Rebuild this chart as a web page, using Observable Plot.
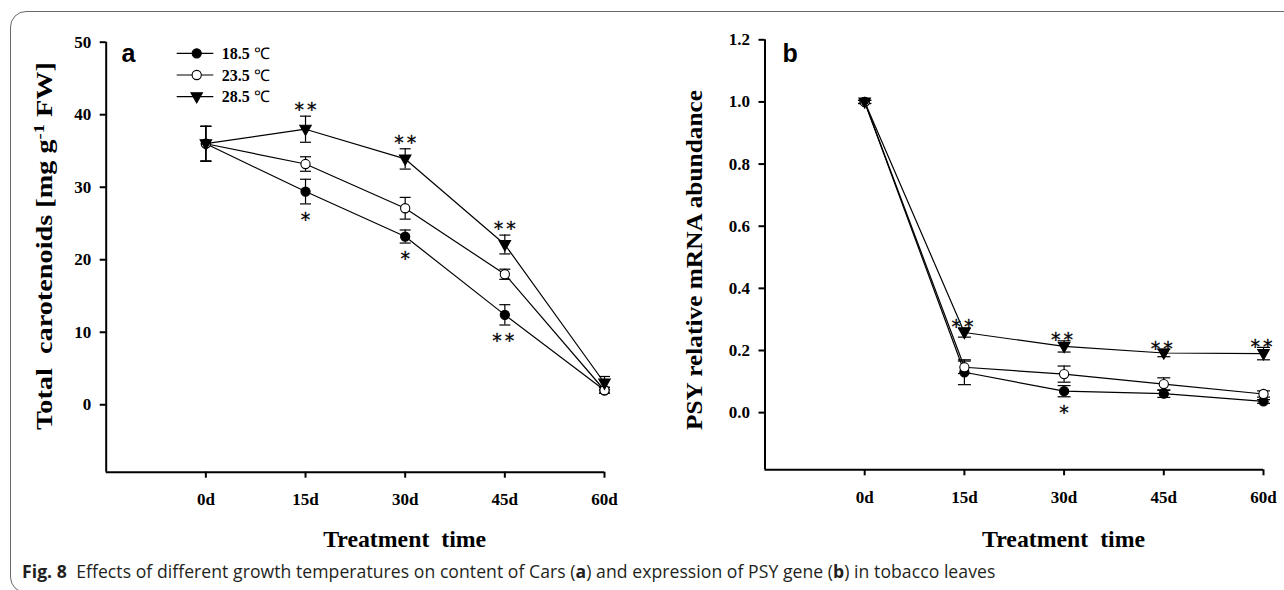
<!DOCTYPE html>
<html>
<head>
<meta charset="utf-8">
<script src="https://cdn.jsdelivr.net/npm/d3@7"></script>
<script src="https://cdn.jsdelivr.net/npm/@observablehq/plot@0.6"></script>
<style>
  html, body { margin: 0; padding: 0; background: #fff; }
  #fig { position: relative; width: 1284px; height: 590px; overflow: hidden; background: #fff; }
  #frame { position: absolute; left: 10px; top: 11px; width: 1320px; height: 582px;
           border: 1.5px solid #6a6a6a; border-radius: 16px; box-sizing: border-box; }
  #pa { position: absolute; left: 0; top: 0; }
  #pb { position: absolute; left: 640px; top: 0; }
  #caption { position: absolute; left: 22px; top: 559px; font-family: "Open Sans", sans-serif;
             font-size: 17.6px; color: #231f20; white-space: nowrap; letter-spacing: 0.05px; }
  #caption b { font-weight: 700; }
</style>
</head>
<body>
<div id="fig">
  <div id="frame"></div>
  <div id="pa"></div>
  <div id="pb"></div>
  <div id="caption"><b>Fig. 8</b>&nbsp; Effects of different growth temperatures on content of Cars (<b>a</b>) and expression of PSY gene (<b>b</b>) in tobacco leaves</div>
</div>
<script>
// Sampling days and their tick labels
const days = [0, 15, 30, 45, 60];
const dayLabels = ["0d", "15d", "30d", "45d", "60d"];
const temps = ["18.5 ℃", "23.5 ℃", "28.5 ℃"];

// Panel a: total carotenoids [mg g-1 FW], means and error bars
const carMean185 = [36.0, 29.4, 23.2, 12.4, 2.0];
const carErr185  = [2.4, 1.7, 0.9, 1.4, 0.4];
const carMean235 = [36.0, 33.2, 27.1, 18.0, 2.0];
const carErr235  = [2.4, 1.0, 1.5, 0.7, 0.4];
const carMean285 = [36.0, 38.0, 33.9, 22.1, 3.0];
const carErr285  = [2.4, 1.8, 1.4, 1.3, 0.9];
const carTicks = [0, 10, 20, 30, 40, 50];
// significance marks: below 18.5 ℃ points, above 28.5 ℃ points
const carSigBelow185 = ["", "*", "*", "**", ""];
const carSigAbove285 = ["", "**", "**", "**", ""];

// Panel b: PSY relative mRNA abundance, means and error bars
const psyMean185 = [1.0, 0.130, 0.069, 0.061, 0.036];
const psyErr185  = [0.005, 0.040, 0.018, 0.012, 0.006];
const psyMean235 = [1.0, 0.146, 0.124, 0.092, 0.060];
const psyErr235  = [0.005, 0.020, 0.026, 0.020, 0.010];
const psyMean285 = [1.0, 0.258, 0.213, 0.192, 0.190];
const psyErr285  = [0.005, 0.015, 0.018, 0.012, 0.020];
const psyTicks = [0, 0.2, 0.4, 0.6, 0.8, 1.0, 1.2];
const psySigBelow185 = ["", "", "*", "", ""];
const psySigAbove285 = ["", "**", "**", "**", "**"];

const serif = "'Liberation Serif', 'Times New Roman', serif";
const xDomain = [-15, 60];

// marker shapes
const triangleDown = {
  draw(ctx, size) {
    const r = Math.sqrt(size / Math.PI);
    ctx.moveTo(-1.15 * r, -0.8 * r);
    ctx.lineTo(1.15 * r, -0.8 * r);
    ctx.lineTo(0, 1.25 * r);
    ctx.closePath();
  }
};
const capLine = {
  draw(ctx, size) {
    const r = Math.sqrt(size / Math.PI);
    ctx.moveTo(-r, 0);
    ctx.lineTo(r, 0);
  }
};
const markerStyle = [
  {symbol: "circle", fill: "black", stroke: "black", r: 4.6},
  {symbol: "circle", fill: "white", stroke: "black", r: 4.6},
  {symbol: triangleDown, fill: "black", stroke: "black", r: 5}
];

function table(means, errs, temp) {
  return days.map((day, i) => ({day, v: means[i], e: errs[i], temp}));
}
function sigTable(rows, marks) {
  return rows.map((d, i) => ({...d, mark: marks[i]})).filter(d => d.mark);
}

function panel({series, yDomain, ticks, tickFormat, marginLeft, marginRight, marginTop, width,
                sigBelow, sigAbove, capR, aboveDx, aboveDy}) {
  const marks = [
    Plot.ruleY([yDomain[0]], {x1: xDomain[0], x2: xDomain[1], stroke: "black", strokeWidth: 2}),
    Plot.ruleX([xDomain[0]], {y1: yDomain[0], y2: yDomain[1], stroke: "black", strokeWidth: 2}),
    Plot.axisY({ticks, tickFormat, tickSize: 6, tickPadding: 9, strokeWidth: 2, label: null}),
    Plot.axisX({ticks: days, tickFormat: d => dayLabels[days.indexOf(d)], tickSize: 6, tickPadding: 15,
                strokeWidth: 2, label: null}),
  ];
  // connecting lines
  series.forEach(s => marks.push(Plot.line(s, {x: "day", y: "v", stroke: "black", strokeWidth: 1.2})));
  // error bars and caps
  series.forEach(s => {
    marks.push(Plot.ruleX(s, {x: "day", y1: d => d.v - d.e, y2: d => d.v + d.e, stroke: "black", strokeWidth: 1.2}));
    marks.push(Plot.dot(s, {x: "day", y: d => d.v + d.e, symbol: capLine, r: capR, stroke: "black", strokeWidth: 1.2}));
    marks.push(Plot.dot(s, {x: "day", y: d => d.v - d.e, symbol: capLine, r: capR, stroke: "black", strokeWidth: 1.2}));
  });
  // data markers
  series.forEach((s, k) => {
    const m = markerStyle[k];
    marks.push(Plot.dot(s, {x: "day", y: "v", symbol: m.symbol, r: m.r, fill: m.fill, stroke: m.stroke, strokeWidth: 1.1}));
  });
  // significance asterisks
  const sigFont = {fontFamily: "'DejaVu Sans', sans-serif", fontSize: 19, fontWeight: "normal",
                   fill: "black", stroke: "black", strokeWidth: 0.3};
  marks.push(Plot.text(sigBelow, {x: "day", y: d => d.v - d.e, text: "mark", dy: 16, ...sigFont}));
  marks.push(Plot.text(sigAbove, {x: "day", y: d => d.v + d.e, text: "mark", dy: aboveDy, dx: aboveDx, ...sigFont}));

  const svg = Plot.plot({
    width, height: 560,
    marginLeft, marginRight, marginTop, marginBottom: 560 - (marginTop + 430),
    x: {domain: xDomain},
    y: {domain: yDomain},
    style: {fontFamily: serif, fontSize: "17px", fontWeight: "bold", color: "black",
            background: "transparent", overflow: "visible"},
    marks
  });
  // spread the double asterisks a little
  d3.select(svg).selectAll("text").filter(function() { return this.textContent === "**"; })
    .attr("letter-spacing", "3px");
  return svg;
}

// ---------- panel a ----------
const carSeries = [
  table(carMean185, carErr185, temps[0]),
  table(carMean235, carErr235, temps[1]),
  table(carMean285, carErr285, temps[2])
];
const chartA = panel({
  series: carSeries, yDomain: [-9.3, 50], ticks: carTicks, tickFormat: d3.format("d"),
  marginLeft: 105.7, marginRight: 36, marginTop: 41.7, width: 640,
  sigBelow: sigTable(carSeries[0], carSigBelow185),
  sigAbove: sigTable(carSeries[2], carSigAbove285),
  capR: 5.5, aboveDx: 1.5, aboveDy: -6
});
document.getElementById("pa").appendChild(chartA);

// ---------- panel b ----------
const psySeries = [
  table(psyMean185, psyErr185, temps[0]),
  table(psyMean235, psyErr235, temps[1]),
  table(psyMean285, psyErr285, temps[2])
];
const chartB = panel({
  series: psySeries, yDomain: [-0.184, 1.2], ticks: psyTicks, tickFormat: d3.format(".1f"),
  marginLeft: 124.5, marginRight: 21, marginTop: 39.3, width: 644,
  sigBelow: sigTable(psySeries[0], psySigBelow185),
  sigAbove: sigTable(psySeries[2], psySigAbove285),
  capR: 6.5, aboveDy: -11,
  // the first pair sits beside the steep drop from day 0
  aboveDx: d => d.day === days[1] ? 12 : 1.5
});
document.getElementById("pb").appendChild(chartB);

// ---------- titles, panel letters, legend ----------
function decorate(chart, {letter, letterX, yTitleX, yTitleY, yTitleLength, yTitleParts}) {
  const svg = d3.select(chart);
  const x = chart.scale("x");
  svg.append("text")
    .attr("x", letterX).attr("y", 62).attr("text-anchor", "start")
    .attr("font-family", "'Liberation Sans', Arial, sans-serif")
    .attr("font-weight", "bold").attr("font-size", 25).attr("fill", "black")
    .text(letter);
  svg.append("text")
    .attr("x", x.apply(30)).attr("y", 547)
    .attr("text-anchor", "middle")
    .attr("font-family", serif).attr("font-weight", "bold").attr("font-size", 23)
    .attr("fill", "black").style("white-space", "pre")
    .attr("textLength", 163).attr("lengthAdjust", "spacingAndGlyphs")
    .text("Treatment  time");
  const t = svg.append("text")
    .attr("transform", `translate(${yTitleX},${yTitleY}) rotate(-90)`)
    .attr("text-anchor", "middle")
    .attr("font-family", serif).attr("font-weight", "bold").attr("font-size", 23)
    .attr("fill", "black").style("white-space", "pre")
    .attr("textLength", yTitleLength).attr("lengthAdjust", "spacingAndGlyphs");
  yTitleParts.forEach(p => {
    const ts = t.append("tspan").text(p.text);
    if (p.sup) ts.attr("baseline-shift", "super").attr("font-size", 15);
  });
}

decorate(chartA, {
  letter: "a", letterX: 121.5, yTitleX: 52, yTitleY: 246, yTitleLength: 368,
  yTitleParts: [{text: "Total  carotenoids [mg g"}, {text: "-1", sup: true}, {text: " FW]"}]
});
decorate(chartB, {
  letter: "b", letterX: 142.5, yTitleX: 62, yTitleY: 260, yTitleLength: 340,
  yTitleParts: [{text: "PSY relative mRNA abundance"}]
});

// legend inside panel a
const legend = d3.select(chartA).append("g");
temps.forEach((label, k) => {
  const y = 53.3 + k * 21.7;
  const m = markerStyle[k];
  legend.append("line").attr("x1", 176.7).attr("x2", 213.3).attr("y1", y).attr("y2", y)
    .attr("stroke", "black").attr("stroke-width", 1.2);
  const sym = m.symbol === "circle" ? d3.symbolCircle : m.symbol;
  legend.append("path")
    .attr("transform", `translate(196.7,${y})`)
    .attr("d", d3.symbol(sym, m.r * m.r * Math.PI)())
    .attr("fill", m.fill).attr("stroke", m.stroke).attr("stroke-width", 1.1);
  const [num, unit] = label.split(" ");
  const t = legend.append("text").attr("x", 221.7).attr("y", y).attr("dy", "0.35em")
    .attr("text-anchor", "start")
    .attr("font-family", serif).attr("font-size", 16).attr("fill", "black");
  t.append("tspan").attr("font-weight", "bold").text(num + " ");
  t.append("tspan").attr("font-weight", "normal").text(unit);
});
</script>
</body>
</html>
